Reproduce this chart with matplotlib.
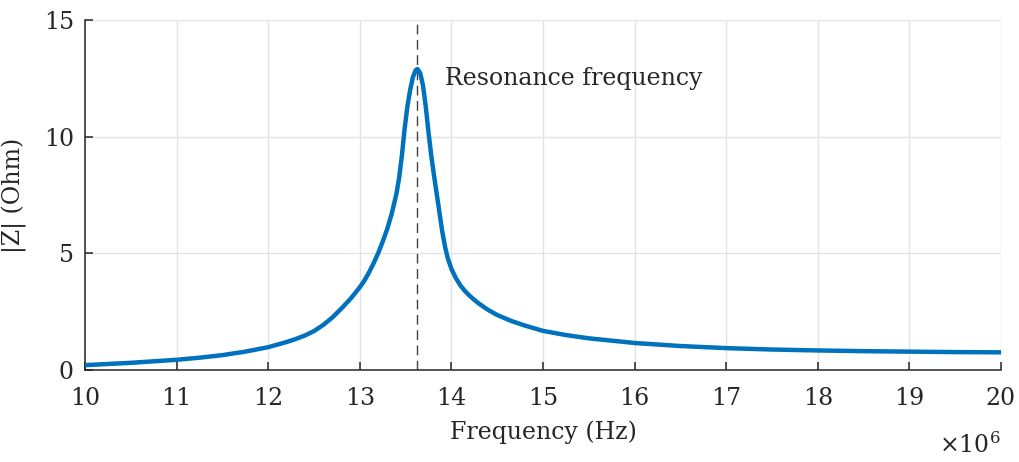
import matplotlib.pyplot as plt

# frequency in MHz (axis shows x10^6), |Z| in Ohm
freq_mhz = [10.0, 10.5, 11.0, 11.25, 11.5, 11.75, 12.0, 12.2, 12.3, 12.4,
            12.5, 12.6, 12.7, 12.8, 12.9, 12.95, 13.0, 13.05, 13.1, 13.15,
            13.2, 13.25, 13.3, 13.35, 13.4, 13.43, 13.46, 13.49, 13.52,
            13.55, 13.58, 13.61, 13.63, 13.66, 13.69, 13.72, 13.75, 13.78,
            13.81, 13.84, 13.87, 13.9, 13.93, 13.96, 14.0, 14.05, 14.1,
            14.15, 14.2, 14.25, 14.3, 14.4, 14.5, 14.65, 14.8, 15.0, 15.25,
            15.5, 16.0, 16.5, 17.0, 17.5, 18.0, 18.5, 19.0, 19.5, 20.0]
z_ohm = [0.21, 0.31, 0.44, 0.53, 0.64, 0.79, 0.98, 1.2, 1.33, 1.48,
         1.67, 1.93, 2.25, 2.64, 3.06, 3.3, 3.55, 3.83, 4.18, 4.57,
         5.0, 5.5, 6.05, 6.72, 7.55, 8.25, 9.2, 10.35, 11.3,
         12.0, 12.55, 12.85, 12.9, 12.72, 12.2, 11.3, 10.2, 9.2,
         8.35, 7.55, 6.75, 5.95, 5.3, 4.8, 4.34, 3.93, 3.62,
         3.38, 3.18, 3.01, 2.85, 2.58, 2.36, 2.11, 1.91, 1.68, 1.5,
         1.36, 1.16, 1.03, 0.94, 0.88, 0.84, 0.81, 0.79, 0.77, 0.76]
resonance_mhz = 13.63
xticks = list(range(10, 21))
yticks = [0, 5, 10, 15]

ink = "#262626"
plt.rcParams["font.family"] = ["DejaVu Serif"]

fig = plt.figure(figsize=(10.19, 4.62), dpi=100)
ax = fig.add_axes([0.0834, 0.199, 0.8989, 0.7577])

ax.plot(freq_mhz, z_ohm, color="#0072BD", linewidth=3.2, zorder=3,
        solid_joinstyle="round")
ax.axvline(resonance_mhz, color="#404040", linewidth=1.0,
           linestyle=(0, (7, 4)), zorder=2)
ax.text(13.93, 12.5, "Resonance frequency", fontsize=17, color=ink,
        va="center", ha="left")

ax.set_xlim(10, 20)
ax.set_ylim(0, 15)
ax.set_xticks(xticks)
ax.set_yticks(yticks)
ax.grid(True, color="#e3e3e3", linewidth=1.0)
ax.set_axisbelow(True)

for side in ["top", "right"]:
    ax.spines[side].set_visible(False)
for side in ["left", "bottom"]:
    ax.spines[side].set_color(ink)
    ax.spines[side].set_linewidth(1.1)

ax.tick_params(direction="in", length=6, width=1.1, color=ink,
               labelcolor=ink, labelsize=17)
ax.tick_params(axis="x", pad=12)
ax.tick_params(axis="y", pad=8)

ax.set_xlabel("Frequency (Hz)", fontsize=17, color=ink, labelpad=8)
ax.set_ylabel("|Z| (Ohm)", fontsize=17, color=ink, labelpad=12)
ax.text(1.0, -0.215, r"$\times10^{6}$", transform=ax.transAxes,
        fontsize=17, color=ink, ha="right", va="center",
        math_fontfamily="dejavuserif")

fig.savefig("out.png", dpi=100)
